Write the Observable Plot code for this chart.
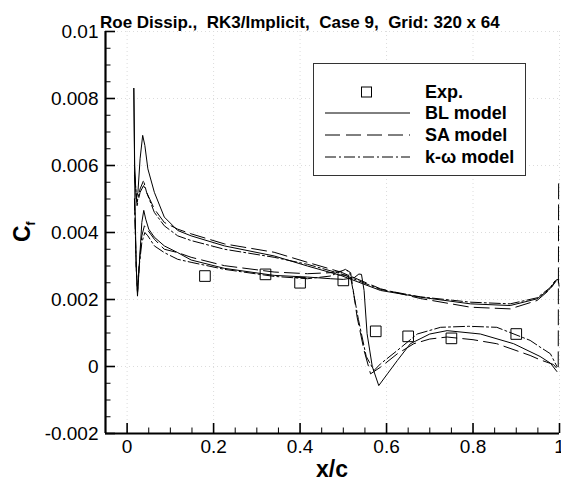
<!DOCTYPE html>
<html>
<head>
<meta charset="utf-8">
<script src="https://cdn.jsdelivr.net/npm/d3@7"></script>
<script src="https://cdn.jsdelivr.net/npm/@observablehq/plot@0.6"></script>
<style>
  html, body { margin: 0; padding: 0; background: #fff; }
  #chart { position: relative; width: 561px; height: 485px; }
</style>
</head>
<body>
<div id="chart"></div>
<script>
// ---------- data ----------
const titleText = "Roe Dissip.,  RK3/Implicit,  Case 9,  Grid: 320 x 64";
const xLabel = "x/c";
const xDomain = [-0.05, 1.0];
const yDomain = [-0.002, 0.01];
const xMajor = [0, 0.2, 0.4, 0.6, 0.8, 1];
const xTickLabels = ["0", "0.2", "0.4", "0.6", "0.8", "1"];
const xMinor = [0.05, 0.1, 0.15, 0.25, 0.3, 0.35, 0.45, 0.5, 0.55, 0.65, 0.7, 0.75, 0.85, 0.9, 0.95];
const yMajor = [-0.002, 0, 0.002, 0.004, 0.006, 0.008, 0.01];
const yTickLabels = ["-0.002", "0", "0.002", "0.004", "0.006", "0.008", "0.01"];
const yMinor = [-0.0015, -0.001, -0.0005, 0.0005, 0.001, 0.0015, 0.0025, 0.003, 0.0035, 0.0045, 0.005, 0.0055,
                0.0065, 0.007, 0.0075, 0.0085, 0.009, 0.0095];

const legendLabels = ["Exp.", "BL model", "SA model", "k-\u03c9 model"];

// Experimental data
const expX  = [0.18, 0.32, 0.40, 0.50, 0.575, 0.65, 0.75, 0.90];
const expCf = [0.0027, 0.00275, 0.0025, 0.00257, 0.00105, 0.0009, 0.00084, 0.00097];

// BL model, lower surface (no shock)
const blLowX  = [0.0155, 0.0175, 0.021, 0.025, 0.030, 0.036, 0.041, 0.048, 0.063, 0.086, 0.117, 0.148, 0.225, 0.34, 0.417, 0.494, 0.586, 0.678, 0.794, 0.886, 0.948, 0.978, 0.992, 0.997, 0.999];
const blLowCf = [0.0083, 0.0060, 0.0050, 0.0052, 0.0062, 0.0069, 0.0066, 0.0059, 0.0052, 0.00446, 0.00406, 0.0039, 0.0036, 0.0033, 0.0030, 0.00272, 0.00227, 0.00207, 0.00187, 0.00182, 0.00202, 0.00232, 0.00258, 0.0026, 0.0024];
// BL model, upper surface (shock)
const blUpX  = [0.0155, 0.018, 0.021, 0.024, 0.028, 0.034, 0.0385, 0.043, 0.050, 0.063, 0.086, 0.117, 0.148, 0.225, 0.34, 0.417, 0.471, 0.50, 0.525, 0.536, 0.542, 0.548, 0.555, 0.567, 0.582, 0.602, 0.625, 0.655, 0.70, 0.74, 0.817, 0.894, 0.955, 0.979, 0.994];
const blUpCf = [0.0083, 0.0050, 0.0030, 0.0021, 0.0030, 0.0043, 0.00466, 0.0044, 0.0041, 0.00386, 0.0036, 0.0034, 0.00318, 0.00293, 0.00272, 0.00267, 0.00262, 0.0026, 0.00265, 0.00276, 0.00275, 0.00227, 0.00098, 0.0, -0.00057, -0.00022, 0.00018, 0.00068, 0.00097, 0.00107, 0.00097, 0.00068, 0.0003, 0.0001, -0.00015];

// SA model, lower surface
const saLowX  = [0.017, 0.023, 0.030, 0.038, 0.045, 0.063, 0.086, 0.117, 0.148, 0.225, 0.34, 0.417, 0.494, 0.586, 0.678, 0.794, 0.886, 0.948, 0.978, 0.992];
const saLowCf = [0.0058, 0.0048, 0.0052, 0.0054, 0.0052, 0.0047, 0.0043, 0.0041, 0.00396, 0.00366, 0.00341, 0.00311, 0.00282, 0.00232, 0.00203, 0.00177, 0.00172, 0.00197, 0.0023, 0.00255];
// SA model, upper surface (shock, with trailing-edge spike)
const saUpX  = [0.017, 0.021, 0.024, 0.028, 0.034, 0.040, 0.046, 0.063, 0.086, 0.117, 0.148, 0.225, 0.34, 0.417, 0.47, 0.509, 0.517, 0.532, 0.548, 0.563, 0.586, 0.625, 0.663, 0.70, 0.74, 0.80, 0.855, 0.932, 0.955, 0.986, 0.997, 0.998];
const saUpCf = [0.0050, 0.0030, 0.0022, 0.0031, 0.0039, 0.0042, 0.0041, 0.0038, 0.0035, 0.0034, 0.00326, 0.00301, 0.00282, 0.00277, 0.0028, 0.00287, 0.0028, 0.00147, 0.00048, -0.00022, -0.00002, 0.00038, 0.00068, 0.00082, 0.00088, 0.0008, 0.00068, 0.00033, 0.0002, 0.00006, -0.0001, 0.0055];

// k-omega model, lower surface
const kwLowX  = [0.017, 0.023, 0.030, 0.038, 0.045, 0.063, 0.086, 0.117, 0.148, 0.225, 0.34, 0.417, 0.494, 0.586, 0.678, 0.794, 0.886, 0.948, 0.978, 0.992];
const kwLowCf = [0.0057, 0.0049, 0.0053, 0.00555, 0.0052, 0.0046, 0.0042, 0.0039, 0.00376, 0.0035, 0.00326, 0.00305, 0.00277, 0.0023, 0.00208, 0.00192, 0.00187, 0.00205, 0.00235, 0.0026];
// k-omega model, upper surface (shock)
const kwUpX  = [0.017, 0.021, 0.024, 0.028, 0.034, 0.041, 0.048, 0.063, 0.086, 0.117, 0.148, 0.225, 0.34, 0.417, 0.47, 0.505, 0.515, 0.535, 0.553, 0.571, 0.586, 0.625, 0.671, 0.725, 0.79, 0.855, 0.932, 0.955, 0.979, 0.994];
const kwUpCf = [0.0050, 0.0030, 0.0022, 0.0030, 0.0037, 0.0040, 0.0039, 0.0036, 0.0034, 0.0032, 0.00311, 0.0029, 0.00269, 0.00262, 0.0027, 0.0029, 0.0028, 0.0014, 0.0003, -0.00012, 0.00008, 0.00048, 0.00097, 0.00117, 0.0012, 0.00117, 0.00078, 0.00058, 0.00038, 0.0];

// ---------- build tables ----------
function rows(model, surface, xs, ys) {
  return xs.map((x, i) => ({model, surface, x, cf: ys[i]}));
}
const curves = [
  ...rows("BL", "lower", blLowX, blLowCf), ...rows("BL", "upper", blUpX, blUpCf),
  ...rows("SA", "lower", saLowX, saLowCf), ...rows("SA", "upper", saUpX, saUpCf),
  ...rows("KW", "lower", kwLowX, kwLowCf), ...rows("KW", "upper", kwUpX, kwUpCf)
];
const exp = expX.map((x, i) => ({x, cf: expCf[i]}));

const styles = {BL: null, SA: "15,6", KW: "11,3,2,3"};
const font = "'Liberation Sans', Arial, Helvetica, sans-serif";
const xFmt = new Map(xMajor.map((v, i) => [v, xTickLabels[i]]));
const yFmt = new Map(yMajor.map((v, i) => [v, yTickLabels[i]]));

const W = 561, H = 485, mL = 105, mR = 2, mT = 31, mB = 52;
const frameW = W - mL - mR, frameH = H - mT - mB;
const majorLen = 10, minorLen = 5.5;

const lineMarks = ["BL", "SA", "KW"].map(m =>
  Plot.line(curves.filter(d => d.model === m), {
    x: "x", y: "cf", z: "surface", stroke: "#000", strokeWidth: 1,
    strokeDasharray: styles[m], strokeLinejoin: "round"
  })
);

const chart = Plot.plot({
  width: W, height: H,
  marginLeft: mL, marginRight: mR, marginTop: mT, marginBottom: mB,
  x: {domain: xDomain, label: null},
  y: {domain: yDomain, label: null},
  style: {fontFamily: font, background: "#fff", color: "#000"},
  marks: [
    Plot.gridX(xMajor, {stroke: "#dcdcdc", strokeOpacity: 1, strokeDasharray: "1,3"}),
    Plot.gridY(yMajor, {stroke: "#dcdcdc", strokeOpacity: 1, strokeDasharray: "1,3"}),
    ...lineMarks,
    Plot.dot(exp, {x: "x", y: "cf", symbol: "square", r: 6, stroke: "#000", strokeWidth: 1, fill: "none"}),
    // inward ticks
    Plot.tickX(xMajor, {x: d => d, insetTop: frameH - majorLen, strokeWidth: 1.6}),
    Plot.tickX(xMinor, {x: d => d, insetTop: frameH - minorLen, strokeWidth: 1}),
    Plot.tickY(yMajor, {y: d => d, insetRight: frameW - majorLen, strokeWidth: 1.6}),
    Plot.tickY(yMinor, {y: d => d, insetRight: frameW - minorLen, strokeWidth: 1}),
    // tick labels
    Plot.axisX(xMajor, {tickSize: 0, tickPadding: 6, tickFormat: d => xFmt.get(d), fontSize: 19}),
    Plot.axisY(yMajor, {tickSize: 0, tickPadding: 7, tickFormat: d => yFmt.get(d), fontSize: 19}),
    // axis lines
    Plot.ruleX([xDomain[0]], {strokeWidth: 2.2}),
    Plot.ruleY([yDomain[0]], {strokeWidth: 2.2})
  ]
});
document.getElementById("chart").appendChild(chart);

const svg = d3.select(chart);
// Title
svg.append("text").attr("x", 100).attr("y", 28).attr("text-anchor", "start")
  .attr("font-family", font).attr("font-weight", "bold").attr("font-size", 17)
  .style("white-space", "pre").text(titleText);
// X label
svg.append("text").attr("x", 332).attr("y", 477).attr("text-anchor", "middle")
  .attr("font-family", font).attr("font-weight", "bold").attr("font-size", 23).text(xLabel);
// Y label C_f
const yl = svg.append("text").attr("transform", "translate(30,242) rotate(-90)")
  .attr("text-anchor", "start")
  .attr("font-family", font).attr("font-weight", "bold").attr("font-size", 23);
yl.append("tspan").text("C");
yl.append("tspan").attr("font-size", 12).attr("dy", 5).text("f");

// Legend
const lg = svg.append("g").attr("font-family", font).attr("text-anchor", "start");
lg.append("rect").attr("x", 313.5).attr("y", 63.5).attr("width", 212).attr("height", 112)
  .attr("fill", "#fff").attr("stroke", "#333").attr("stroke-width", 1);
const rowY = [92, 113, 135, 157];
legendLabels.forEach((lab, i) => {
  lg.append("text").attr("x", 425).attr("y", rowY[i] + 6).attr("font-weight", "bold")
    .attr("font-size", 18).text(lab);
});
lg.append("rect").attr("x", 361.5).attr("y", rowY[0] - 5).attr("width", 10).attr("height", 10)
  .attr("fill", "none").attr("stroke", "#000");
["BL", "SA", "KW"].forEach((m, j) => {
  lg.append("line").attr("x1", 325).attr("x2", 410).attr("y1", rowY[j + 1]).attr("y2", rowY[j + 1])
    .attr("stroke", "#000").attr("stroke-width", 1).attr("stroke-dasharray", styles[m]);
});
</script>
</body>
</html>
